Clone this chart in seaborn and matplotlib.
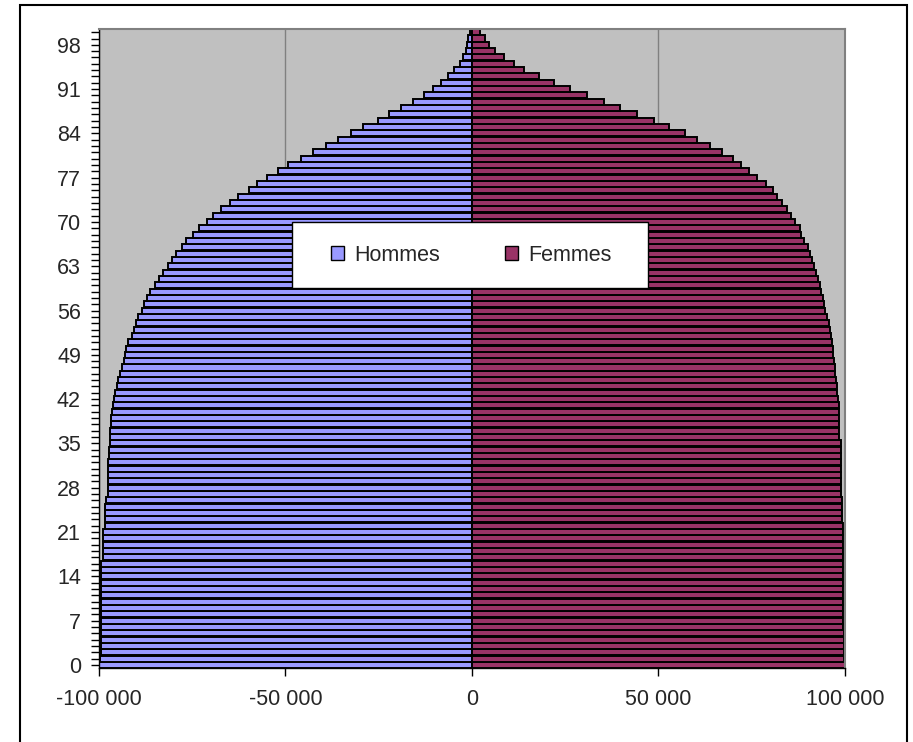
import pandas as pd
import seaborn as sns
import matplotlib.pyplot as plt
from matplotlib.patches import Patch, Rectangle
from matplotlib.ticker import FixedLocator, FuncFormatter

# --- Data: survivors by age (life table) ---
ages = list(range(101))

hommes = [100000, 99600, 99570, 99550, 99540, 99530, 99520, 99510, 99500, 99490,
          99480, 99470, 99460, 99450, 99430, 99410, 99380, 99000, 98950, 98900,
          98850, 98800, 98400, 98350, 98300, 98250, 98200, 97700, 97650, 97600,
          97550, 97500, 97450, 97250, 97200, 97150, 97100, 97000, 96750, 96700,
          96550, 96250, 96000, 95700, 95150, 95000, 94400, 93800, 93300, 93000,
          92800, 92100, 91200, 90700, 90200, 89500, 88400, 87800, 87200, 86200,
          85000, 83800, 82800, 81500, 80500, 79400, 77700, 76600, 74800, 73200,
          71100, 69400, 67200, 64900, 62700, 59900, 57700, 55000, 52000, 49300,
          45900, 42500, 39200, 35900, 32500, 29100, 25300, 22200, 19100, 15700,
          12800, 10500, 8300, 6300, 4900, 3200, 2300, 1700, 1200, 1000, 450]

femmes = [100000, 99650, 99640, 99630, 99620, 99610, 99600, 99600, 99590, 99590,
          99580, 99580, 99570, 99570, 99560, 99560, 99550, 99540, 99530, 99520,
          99510, 99500, 99490, 99100, 99090, 99080, 99070, 99060, 99050, 99040,
          99030, 99020, 99010, 99000, 98990, 98980, 98400, 98380, 98360, 98340,
          98320, 98300, 98000, 97900, 97800, 97500, 97400, 97300, 97000, 96900,
          96800, 96600, 96200, 96000, 95700, 95100, 94600, 94400, 94000, 93500,
          93200, 92800, 92300, 91700, 91200, 90700, 90100, 88900, 88300, 87900,
          86700, 85600, 84400, 83200, 81900, 80700, 78700, 76500, 74300, 72200,
          70000, 67100, 63700, 60400, 57000, 52700, 48800, 44300, 39800, 35300,
          30900, 26300, 21900, 18100, 14000, 11200, 8500, 6200, 4600, 3500, 2200]

series = ["Hommes", "Femmes"]
colors = {"Hommes": "#9999FF", "Femmes": "#993366"}
age_labels = list(range(0, 99, 7))
x_ticks = [-100000, -50000, 0, 50000, 100000]

df = pd.DataFrame({
    "age": ages * 2,
    "effectif": [-v for v in hommes] + femmes,
    "sexe": ["Hommes"] * len(ages) + ["Femmes"] * len(ages),
})

sns.set_theme(style="white")
plt.rcParams["font.family"] = ["Liberation Sans", "DejaVu Sans"]

fig = plt.figure(figsize=(9.13, 7.42), dpi=100)
ax = fig.add_axes([0.1084, 0.0997, 0.8171, 0.8612])
ax.set_facecolor("#C0C0C0")

sns.barplot(
    data=df, x="effectif", y="age", hue="sexe", hue_order=series,
    orient="y", native_scale=True, dodge=False, errorbar=None,
    palette=colors, width=0.95, edgecolor="black", linewidth=1.4,
    saturation=1, legend=False, ax=ax,
)

# --- Axes ---
ax.set_xlim(-100000, 100000)
ax.set_ylim(-0.5, 100.5)
ax.set_xlabel("")
ax.set_ylabel("")

ax.xaxis.set_major_locator(FixedLocator(x_ticks))
ax.xaxis.set_major_formatter(FuncFormatter(lambda v, p: f"{int(v):,}".replace(",", " ")))
ax.yaxis.set_major_locator(FixedLocator(age_labels))
ax.yaxis.set_minor_locator(FixedLocator(ages))
ax.tick_params(axis="x", which="major", bottom=True, direction="out", length=6,
               width=1, color="black", labelsize=15.5, pad=9)
ax.tick_params(axis="y", which="both", left=True, direction="out", length=6,
               width=1, color="black", labelsize=15.5, pad=7)

ax.xaxis.grid(True, color="#808080", linewidth=1)
ax.set_axisbelow(True)

for side in ["left", "bottom"]:
    ax.spines[side].set_color("black")
    ax.spines[side].set_linewidth(1)
for side in ["top", "right"]:
    ax.spines[side].set_color("#808080")
    ax.spines[side].set_linewidth(1.5)

# --- Legend: white box drawn by hand, entries placed inside ---
ax.add_patch(Rectangle((0.2587, 0.5947), 0.4772, 0.1033, transform=ax.transAxes,
                       facecolor="white", edgecolor="black", linewidth=1.0, zorder=4))
handles = [Patch(facecolor=colors[s], edgecolor="black", label=s) for s in series]
leg = ax.legend(
    handles=handles, ncol=2, loc="center left",
    bbox_to_anchor=(0.311, 0.6463),
    fontsize=15.5, frameon=False, borderpad=0, borderaxespad=0,
    handlelength=0.6, handleheight=0.6, handletextpad=0.5, columnspacing=3.0,
)
leg.set_zorder(5)

# --- Chart-area border ---
fig.patches.append(Rectangle((20 / 913, -0.01), (907 - 20) / 913, 1.0033,
                             transform=fig.transFigure, fill=False,
                             edgecolor="black", linewidth=1.5))

fig.savefig("out.png", dpi=100)
